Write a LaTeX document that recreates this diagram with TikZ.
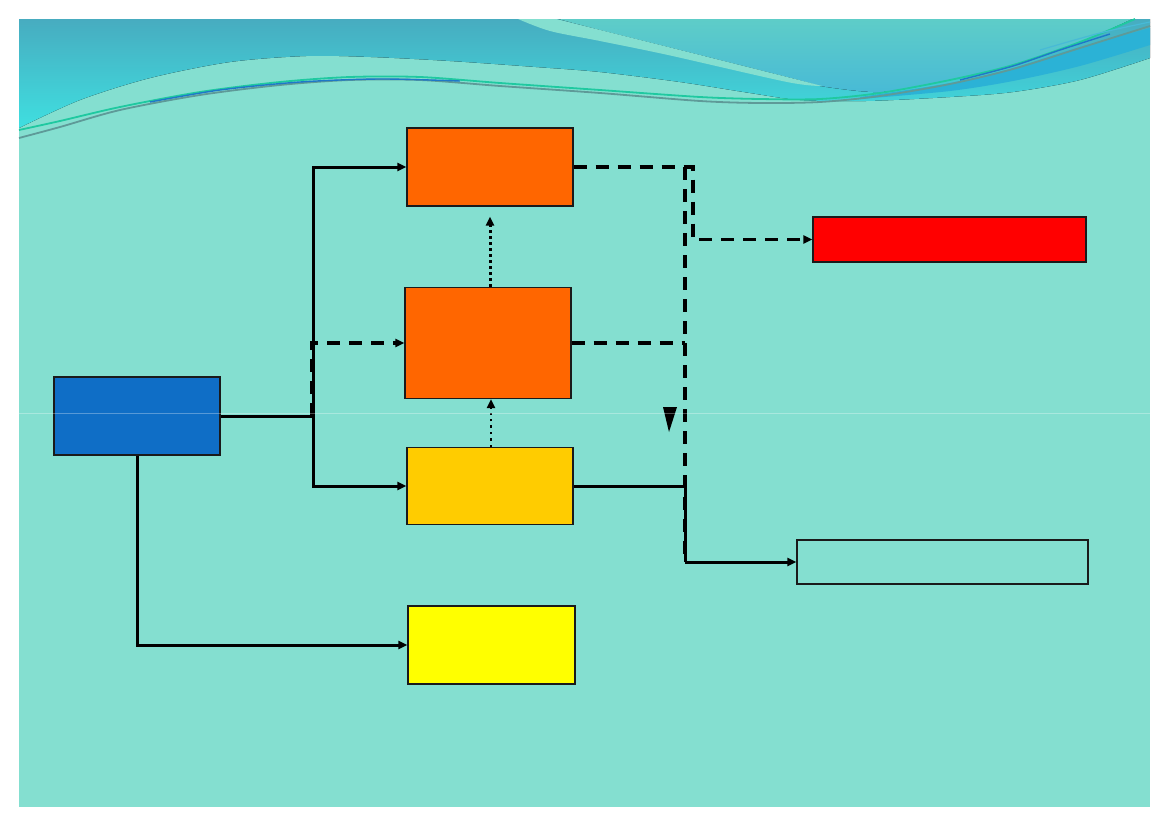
\documentclass[tikz,border=0pt]{standalone}
\usetikzlibrary{arrows.meta}
\definecolor{bg}{HTML}{84DFD0}
\definecolor{tealtop}{HTML}{47ACC0}
\definecolor{tealbot}{HTML}{3FDFE0}
\definecolor{rtop}{HTML}{5ECDC8}
\definecolor{rbot}{HTML}{48BAD6}
\definecolor{dblue}{HTML}{2BB2D6}
\definecolor{lgreen}{HTML}{1FC9A0}
\definecolor{lgray}{HTML}{5E9A98}
\definecolor{lblue}{HTML}{1E78C8}
\definecolor{boxblue}{HTML}{0F6EC6}
\definecolor{boxorange}{HTML}{FF6600}
\definecolor{boxgold}{HTML}{FFCC00}
\definecolor{boxyellow}{HTML}{FFFF00}
\definecolor{boxred}{HTML}{FF0000}
\definecolor{edge}{HTML}{1A1A1A}
\tikzset{
  box/.style={draw=edge, line width=1.1pt, rectangle, inner sep=0pt},
  tip/.style={-{Triangle[length=9pt,width=8pt]}},
  solidline/.style={line width=3pt},
  dashline/.style={line width=3.2pt, dash pattern=on 13pt off 9pt},
  dotline/.style={line width=3pt, dash pattern=on 3pt off 3pt},
  dotlinesmall/.style={line width=2.4pt, dash pattern=on 2.4pt off 4pt},
}
\begin{document}
\begin{tikzpicture}[x=1pt,y=-1pt]
\useasboundingbox (0,0) rectangle (1169,827);
\fill[white] (0,0) rectangle (1169,827);
% slide background
\fill[bg] (19,19) rectangle (1150,807);
% header
\fill[top color=tealtop, bottom color=tealbot]
  (19,19) -- (1150,19) -- (1150,58)
  -- plot[smooth] coordinates {(1150,58) (1080,80) (1013,92) (950,97) (866,101) (800,100) (750,93) (680,82) (600,72) (536,67) (450,61) (371,57) (306,56) (230,62) (150,78) (80,100) (19,128)}
  -- cycle;
% right upper region
\fill[top color=rtop, bottom color=rbot]
  (558,19) -- (1132,19)
  -- plot[smooth] coordinates {(1132,19) (1080,42) (1013,65) (950,80) (880,92) (820,86)}
  -- plot[smooth] coordinates {(820,86) (787,77) (668,47) (600,30) (558,19)}
  -- cycle;
% light band
\fill[bg] plot[smooth] coordinates {(556,19) (600,30) (668,47) (787,77) (822,86)}
  -- plot[smooth] coordinates {(822,86) (787,82) (668,55) (600,41) (550,31) (518,19)} -- cycle;
% dark blue stripe
\fill[dblue] plot[smooth] coordinates {(860,97) (950,83) (1013,68) (1080,47) (1150,28)}
  -- (1150,45) -- plot[smooth] coordinates {(1150,45) (1080,66) (1013,81) (950,91) (860,99)} -- cycle;
% decorative lines
\draw[lgreen, line width=1.8pt] plot[smooth] coordinates {(19,130) (60,121) (120,107) (200,92) (280,82) (350,77) (420,77) (500,83) (600,90) (700,97) (760,99) (820,99) (880,93) (950,80) (1013,65) (1080,42) (1135,19)};
\draw[lgray, line width=1.8pt] plot[smooth] coordinates {(19,138) (60,127) (120,110) (200,95) (280,85) (350,80) (420,80) (500,86) (600,93) (700,101) (760,103) (820,102) (880,96) (950,84) (1013,69) (1080,48) (1150,26)};
\draw[lblue, line width=1.4pt] plot[smooth] coordinates {(150,102) (220,90) (300,82) (380,79) (460,81)};
\draw[lblue, line width=1.4pt] plot[smooth] coordinates {(960,80) (1013,66) (1060,50) (1110,34)};
\draw[rbot, line width=1.2pt] plot[smooth] coordinates {(1040,50) (1100,33) (1150,22)};

% boxes
\node[box, fill=boxblue, minimum width=166pt, minimum height=78pt] (A) at (137,416) {};
\node[box, fill=boxorange, minimum width=166pt, minimum height=78pt] (B) at (490,167) {};
\node[box, fill=boxorange, minimum width=166pt, minimum height=111pt] (C) at (488,343) {};
\node[box, fill=boxgold, minimum width=166pt, minimum height=77pt] (D) at (490,486) {};
\node[box, fill=boxyellow, minimum width=167pt, minimum height=78pt] (E) at (491.5,645) {};
\node[box, fill=boxred, minimum width=273pt, minimum height=45pt] (F) at (949.5,239.5) {};
\node[box, minimum width=291pt, minimum height=44pt] (G) at (942.5,562) {};

% junctions
\coordinate (j1) at (313,416);
\coordinate (k1) at (685,167);
\coordinate (k2) at (685,562);
\coordinate (k3) at (693,167);

% connectors
\draw[solidline] (A.east) -- (j1);
\draw[solidline, tip] (j1) |- (B.west);
\draw[solidline, tip] (j1) |- (D.west);
\draw[dashline, tip] ([xshift=-1pt]j1) |- (C.west);
\draw[solidline, tip] (A.south) |- (E.west);
\draw[dotline, tip, shorten >=10pt] ([xshift=2pt]C.north) -- ([xshift=2pt]C.north |- B.south);
\draw[dotlinesmall, tip] ([xshift=1pt]D.north) -- ([xshift=1pt]D.north |- C.south);
\draw[dashline, tip] (B.east) -- (k3) |- (F.west);
\draw[dashline] (k1) -- (k2);
\draw[dashline] (C.east) -- (C.east -| k1);
\draw[solidline] (D.east) -| (k2);
\draw[solidline, tip] (k2) -- (G.west);
% free arrowhead
\fill[black] (663,407) -- (677,407) -- (669,432) -- cycle;
% faint line
\draw[white, opacity=0.3, line width=0.8pt] (19,413) -- (1150,413);
\end{tikzpicture}
\end{document}
